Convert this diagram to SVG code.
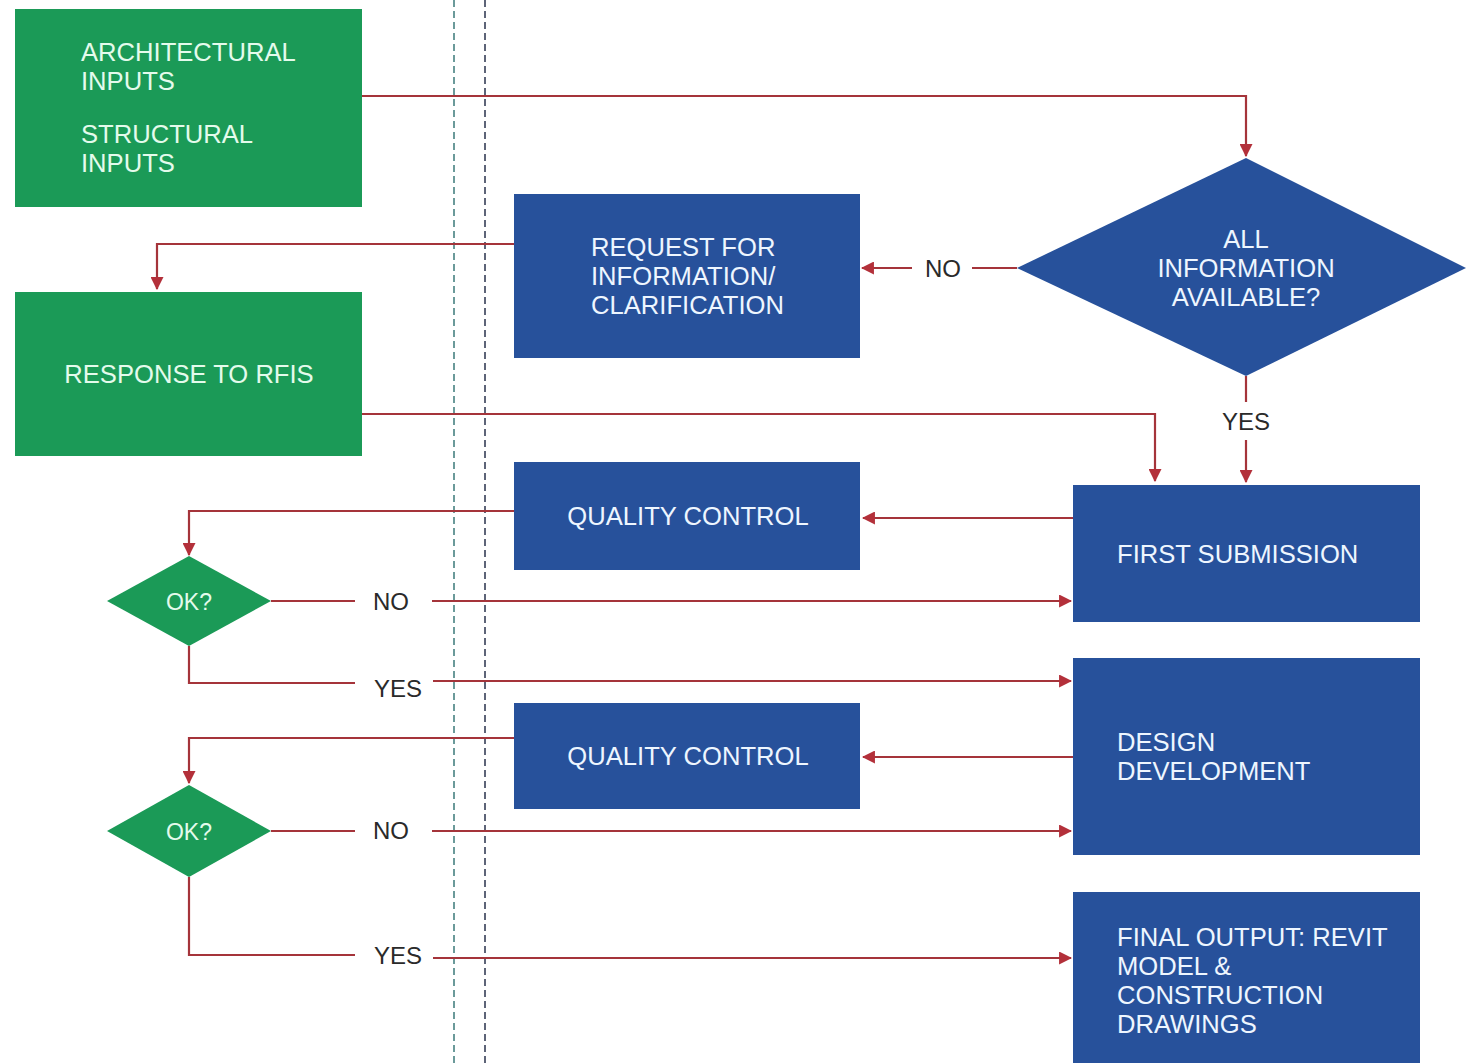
<svg xmlns="http://www.w3.org/2000/svg" width="1466" height="1063" viewBox="0 0 1466 1063">
  <style>
    .green { fill: #1b9a57; }
    .blue { fill: #27519b; }
    .ntext { font-family: "Liberation Sans", Arial, sans-serif; font-size: 25.6px; fill: #eef6ff; }
    .gtext { font-family: "Liberation Sans", Arial, sans-serif; font-size: 25.6px; fill: #e4fbec; }
    .lbl { font-family: "Liberation Sans", Arial, sans-serif; font-size: 24px; fill: #2a2a2a; }
    .conn { fill: none; stroke: #a5343a; stroke-width: 2.2; }
    .guide { fill: none; stroke-width: 2; stroke-dasharray: 7 4; }
  </style>
  <defs>
    <marker id="arr" viewBox="0 0 12 12" refX="11" refY="6" markerWidth="13" markerHeight="13" markerUnits="userSpaceOnUse" orient="auto">
      <path d="M0,0 L12,6 L0,12 z" fill="#b3303a"/>
    </marker>
  </defs>

  <rect width="1466" height="1063" fill="#ffffff"/>

  <!-- swimlane guides -->
  <g id="guides">
    <line class="guide" x1="454" y1="0" x2="454" y2="1063" stroke="#6b9a9a"/>
    <line class="guide" x1="485" y1="0" x2="485" y2="1063" stroke="#5d6478"/>
  </g>

  <!-- connectors -->
  <g id="connectors">
    <polyline class="conn" points="362,96 1246,96 1246,156" marker-end="url(#arr)"/>
    <polyline class="conn" points="1017,268 972,268"/>
    <polyline class="conn" points="912,268 862,268" marker-end="url(#arr)"/>
    <polyline class="conn" points="514,244 157,244 157,289" marker-end="url(#arr)"/>
    <polyline class="conn" points="362,414 1155,414 1155,481" marker-end="url(#arr)"/>
    <polyline class="conn" points="1246,376 1246,402"/>
    <polyline class="conn" points="1246,440 1246,482" marker-end="url(#arr)"/>
    <polyline class="conn" points="1073,518 863,518" marker-end="url(#arr)"/>
    <polyline class="conn" points="514,511 189,511 189,555" marker-end="url(#arr)"/>
    <polyline class="conn" points="271,601 355,601"/>
    <polyline class="conn" points="432,601 1071,601" marker-end="url(#arr)"/>
    <polyline class="conn" points="189,646 189,683 355,683"/>
    <polyline class="conn" points="433,681 1071,681" marker-end="url(#arr)"/>
    <polyline class="conn" points="1073,757 863,757" marker-end="url(#arr)"/>
    <polyline class="conn" points="514,738 189,738 189,783" marker-end="url(#arr)"/>
    <polyline class="conn" points="271,831 355,831"/>
    <polyline class="conn" points="432,831 1071,831" marker-end="url(#arr)"/>
    <polyline class="conn" points="189,877 189,955 355,955"/>
    <polyline class="conn" points="433,958 1071,958" marker-end="url(#arr)"/>
    <text class="lbl" x="943" y="277" text-anchor="middle">NO</text>
    <text class="lbl" x="1246" y="430" text-anchor="middle">YES</text>
    <text class="lbl" x="391" y="610" text-anchor="middle">NO</text>
    <text class="lbl" x="398" y="697" text-anchor="middle">YES</text>
    <text class="lbl" x="391" y="839" text-anchor="middle">NO</text>
    <text class="lbl" x="398" y="964" text-anchor="middle">YES</text>
  </g>

  <!-- nodes -->
  <g id="inputs">
    <rect class="green" x="15" y="9" width="347" height="198"/>
    <text class="gtext" x="81" y="61">ARCHITECTURAL</text>
    <text class="gtext" x="81" y="90">INPUTS</text>
    <text class="gtext" x="81" y="143">STRUCTURAL</text>
    <text class="gtext" x="81" y="172">INPUTS</text>
  </g>

  <g id="info-check">
    <polygon class="blue" points="1246,158 1466,268 1246,376 1017,268"/>
    <text class="ntext" x="1246" y="248" text-anchor="middle">ALL</text>
    <text class="ntext" x="1246" y="277" text-anchor="middle">INFORMATION</text>
    <text class="ntext" x="1246" y="306" text-anchor="middle">AVAILABLE?</text>
  </g>

  <g id="rfi">
    <rect class="blue" x="514" y="194" width="346" height="164"/>
    <text class="ntext" x="591" y="256">REQUEST FOR</text>
    <text class="ntext" x="591" y="285">INFORMATION/</text>
    <text class="ntext" x="591" y="314">CLARIFICATION</text>
  </g>

  <g id="rfi-response">
    <rect class="green" x="15" y="292" width="347" height="164"/>
    <text class="gtext" x="189" y="383" text-anchor="middle">RESPONSE TO RFIS</text>
  </g>

  <g id="qc1">
    <rect class="blue" x="514" y="462" width="346" height="108"/>
    <text class="ntext" x="688" y="525" text-anchor="middle">QUALITY CONTROL</text>
  </g>

  <g id="first-submission">
    <rect class="blue" x="1073" y="485" width="347" height="137"/>
    <text class="ntext" x="1117" y="563">FIRST SUBMISSION</text>
  </g>

  <g id="ok1">
    <polygon class="green" points="189,556 271,601 189,646 107,601"/>
    <text class="gtext" x="189" y="610" text-anchor="middle" style="font-size:23px">OK?</text>
  </g>

  <g id="design-development">
    <rect class="blue" x="1073" y="658" width="347" height="197"/>
    <text class="ntext" x="1117" y="751">DESIGN</text>
    <text class="ntext" x="1117" y="780">DEVELOPMENT</text>
  </g>

  <g id="qc2">
    <rect class="blue" x="514" y="703" width="346" height="106"/>
    <text class="ntext" x="688" y="765" text-anchor="middle">QUALITY CONTROL</text>
  </g>

  <g id="ok2">
    <polygon class="green" points="189,785 271,831 189,877 107,831"/>
    <text class="gtext" x="189" y="840" text-anchor="middle" style="font-size:23px">OK?</text>
  </g>

  <g id="final-output">
    <rect class="blue" x="1073" y="892" width="347" height="180"/>
    <text class="ntext" x="1117" y="946">FINAL OUTPUT: REVIT</text>
    <text class="ntext" x="1117" y="975">MODEL &amp;</text>
    <text class="ntext" x="1117" y="1004">CONSTRUCTION</text>
    <text class="ntext" x="1117" y="1033">DRAWINGS</text>
  </g>
</svg>
